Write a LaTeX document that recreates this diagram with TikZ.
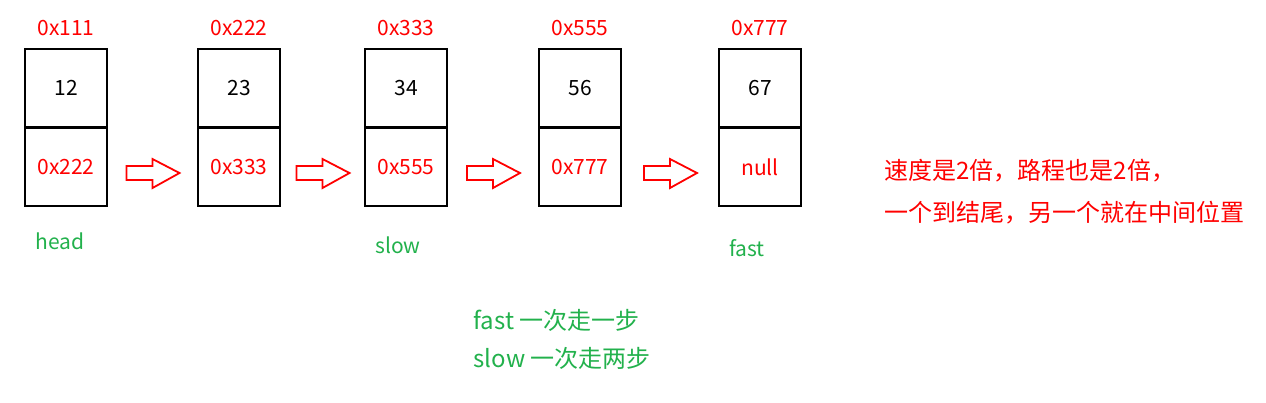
\documentclass[tikz,border=0pt]{standalone}
\usepackage{fontspec}
\setmainfont{Noto Sans CJK SC}
\definecolor{gr}{RGB}{34,177,76}
\begin{document}
\begin{tikzpicture}[x=1pt,y=-1pt,
  cell/.style={draw,line width=2pt,minimum width=82pt,minimum height=78pt,inner sep=0pt,font=\fontsize{21}{24}\selectfont},
  addr/.style={text=red,font=\fontsize{21}{24}\selectfont},
  lbl/.style={text=gr,font=\fontsize{21}{24}\selectfont},
  note/.style={font=\fontsize{24}{28}\selectfont,anchor=west},
  blk/.style={draw=red,line width=1.8pt,fill=white}]
\useasboundingbox (0,0) rectangle (1266,402);
\foreach \n/\x/\v/\a/\p in {a/66/12/0x111/0x222, b/239/23/0x222/0x333, c/406/34/0x333/0x555, d/580/56/0x555/0x777, e/760/67/0x777/null}{
  \node[cell] (\n t) at (\x,88) {\v};
  \node[cell,text=red] (\n b) at (\x,167) {\p};
  \node[addr] (\n a) at (\x,28) {\a};
}
\foreach \s/\t in {a/b,b/c,c/d,d/e}{
  \path (\s b.east) -- (\t b.west) coordinate[pos=0.5] (m\s);
  \draw[blk] ([shift={(-26,-1)}]m\s) -- ++(26,0) -- ++(0,-7) -- ++(27,14) -- ++(-27,15) -- ++(0,-8) -- ++(-26,0) -- cycle;
}
\node[lbl] (h) at (60,241) {head};
\node[lbl] (s) at (398,245) {slow};
\node[lbl] (f) at (747,248) {fast};
\node[note,text=gr] (n1) at (470,320) {fast 一次走一步};
\node[note,text=gr] (n2) at (470,358) {slow 一次走两步};
\node[note,text=red] (r1) at (881,171) {速度是2倍，路程也是2倍，};
\node[note,text=red] (r2) at (881,213) {一个到结尾，另一个就在中间位置};
\end{tikzpicture}
\end{document}
